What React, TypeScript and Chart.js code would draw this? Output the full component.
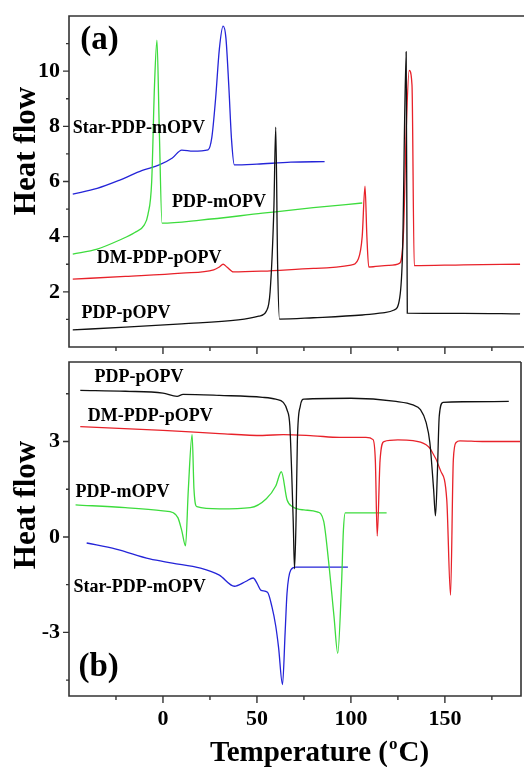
import React, { useEffect, useRef } from "react";
import { Chart, registerables } from "chart.js";
Chart.register(...registerables);

const FONT = '"Liberation Serif", "Times New Roman", serif';

// ---------- Panel (a) ----------
const aStarT = [-48, -35, -23, -11, -2, 5, 10, 16, 24, 26, 28, 30, 32, 33.5, 35, 36.5, 38, 50, 68, 86];
const aStarV = [5.54, 5.75, 6.05, 6.4, 6.6, 6.85, 7.14, 7.1, 7.15, 7.6, 9.0, 10.8, 11.63, 11.2, 9.5, 7.5, 6.6, 6.63, 6.7, 6.72];

const aMT = [-48, -35, -23, -15, -10, -8, -6, -4.5, -3.2, -2, -0.5, 20, 53, 80, 106];
const aMV = [3.37, 3.55, 3.88, 4.15, 4.42, 4.8, 6.0, 9.5, 11.12, 8.0, 4.49, 4.6, 4.85, 5.05, 5.22];

const aDMT = [-48, -20, 10, 27, 30, 32, 34, 37.5, 53, 80, 100, 104, 106, 107.5, 108.5, 109.5, 120, 126, 128, 129.5, 131, 132.5, 133.7, 160, 190];
const aDMV = [2.46, 2.56, 2.68, 2.8, 2.9, 3.0, 2.9, 2.72, 2.75, 2.85, 2.97, 3.2, 4.0, 5.83, 4.0, 2.9, 2.96, 3.04, 4.2, 8.0, 10.03, 9.5, 2.95, 2.98, 3.0];

const aPT = [-48, -20, 10, 40, 51, 55, 57, 59, 60, 61, 62, 80, 106, 118, 123, 126, 127.5, 129.4, 130, 160, 190];
const aPV = [0.62, 0.72, 0.84, 0.98, 1.12, 1.3, 2.0, 5.0, 7.97, 3.0, 1.01, 1.06, 1.16, 1.25, 1.34, 1.8, 3.5, 10.7, 1.23, 1.22, 1.2];

// ---------- Panel (b) ----------
const bPT = [-44, -20, 0, 7.5, 10.7, 30, 53, 60, 64, 66, 67.5, 68.5, 69.3, 70, 70.8, 71.5, 73, 75, 100, 124, 133, 137, 140, 142, 144, 145, 146, 147, 149, 160, 184];
const bPV = [4.61, 4.58, 4.52, 4.42, 4.48, 4.45, 4.39, 4.33, 4.23, 4.0, 3.5, 2.0, 0.5, -1.0, 0.5, 3.0, 4.1, 4.33, 4.36, 4.26, 4.15, 4.0, 3.6, 2.97, 1.5, 0.66, 2.0, 3.8, 4.23, 4.25, 4.26];

const bDMT = [-44, 0, 30, 53, 64, 80, 94, 108, 111.8, 113, 114, 115.5, 117.6, 125, 133, 140, 142.5, 147.6, 151, 153, 154.5, 156, 158, 170, 190];
const bDMV = [3.47, 3.35, 3.25, 3.19, 3.22, 3.18, 3.13, 3.13, 3.06, 2.4, 0.03, 2.4, 3.0, 3.05, 3.03, 2.9, 2.75, 2.1, 1.17, -1.83, 2.43, 2.97, 3.02, 3.0, 3.0];

const bMT = [-46.5, -20, 0, 5.5, 8, 10, 12, 13.5, 15.5, 16.5, 18, 30, 46.5, 55, 60, 63, 66, 69, 75, 82, 85.5, 88, 91, 93, 95, 96, 97, 105, 119];
const bMV = [1.01, 0.92, 0.82, 0.76, 0.6, 0.2, -0.28, 1.5, 3.22, 1.5, 0.95, 0.88, 0.92, 1.2, 1.6, 2.05, 1.17, 0.95, 0.85, 0.79, 0.5, -0.7, -2.5, -3.66, -1.5, 0.2, 0.76, 0.76, 0.76];

const bStarT = [-40.6, -25, -7, 5, 20, 30, 38, 44, 48, 50, 52, 55.6, 58, 60, 61.5, 63.6, 65, 66, 68, 70.6, 85, 98.4];
const bStarV = [-0.19, -0.38, -0.69, -0.82, -0.98, -1.2, -1.55, -1.4, -1.29, -1.45, -1.67, -1.74, -2.2, -2.8, -3.47, -4.64, -3.0, -1.77, -1.04, -0.95, -0.95, -0.95];

// ---------- Ticks & labels ----------
const xMajor = [0, 50, 100, 150];
const xMinorStep = 25;
const aYMajor = [2, 4, 6, 8, 10];
const bYMajor = [-3, 0, 3];

const seriesNames = ["PDP-pOPV", "DM-PDP-pOPV", "PDP-mOPV", "Star-PDP-mOPV"];
const seriesColors = ["#111111", "#e8222a", "#3ddc3d", "#2424d8"];

const aLabelT = [-43.3, -35.3, 4.8, -48];
const aLabelV = [1.23, 3.22, 5.25, 7.93];
const bLabelT = [-36.4, -40, -46.5, -47.6];
const bLabelV = [5.02, 3.79, 1.39, -1.58];

const pts = (t: number[], v: number[]) => t.map((x, i) => ({ x, y: v[i] }));

function makeDatasets(list: [number[], number[]][]) {
  return list.map((d, i) => ({
    label: seriesNames[i],
    data: pts(d[0], d[1]),
    borderColor: seriesColors[i],
    borderWidth: 1.3,
    pointRadius: 0,
    cubicInterpolationMode: "monotone" as const,
    fill: false,
  }));
}

function decorPlugin(cfg: {
  panel: string; panelT: number; panelV: number;
  labelT: number[]; labelV: number[];
  yMinor: number[]; yMajor: number[];
  titleY: number; extendRight: boolean; xTitle: boolean; offsetY: number;
}) {
  return {
    id: "decor" + cfg.panel,
    afterDraw(chart: any) {
      const ctx = chart.ctx;
      const { left, right, top, bottom } = chart.chartArea;
      const xs = chart.scales.x;
      const ys = chart.scales.y;
      ctx.save();
      // frame
      ctx.strokeStyle = "#333";
      ctx.lineWidth = 1.6;
      ctx.beginPath();
      const rEdge = cfg.extendRight ? chart.width : right;
      ctx.moveTo(rEdge, top);
      ctx.lineTo(left, top);
      ctx.lineTo(left, bottom);
      ctx.lineTo(rEdge, bottom);
      if (!cfg.extendRight) {
        ctx.lineTo(right, top);
      }
      ctx.stroke();
      // x ticks
      ctx.lineWidth = 1.4;
      ctx.beginPath();
      for (let v = xs.min + xMinorStep; v <= xs.max; v += xMinorStep) {
        const vv = Math.round(v / xMinorStep) * xMinorStep;
        const px = xs.getPixelForValue(vv);
        if (px <= left + 1 || px >= right - 1) continue;
        const len = xMajor.includes(vv) ? 7 : 4;
        ctx.moveTo(px, bottom);
        ctx.lineTo(px, bottom + len);
      }
      // y ticks
      for (const v of cfg.yMinor) {
        const py = ys.getPixelForValue(v);
        const len = cfg.yMajor.includes(v) ? 6 : 3;
        ctx.moveTo(left, py);
        ctx.lineTo(left - len, py);
      }
      ctx.stroke();
      // series labels
      ctx.fillStyle = "#000";
      ctx.font = `bold 18px ${FONT}`;
      ctx.textAlign = "left";
      ctx.textBaseline = "middle";
      seriesNames.forEach((n, i) => {
        ctx.fillText(n, xs.getPixelForValue(cfg.labelT[i]), ys.getPixelForValue(cfg.labelV[i]));
      });
      // panel label
      ctx.font = `bold 33px ${FONT}`;
      ctx.fillText(cfg.panel, xs.getPixelForValue(cfg.panelT), ys.getPixelForValue(cfg.panelV));
      // y title
      ctx.save();
      ctx.translate(35, cfg.titleY);
      ctx.rotate(-Math.PI / 2);
      ctx.textAlign = "center";
      ctx.textBaseline = "alphabetic";
      ctx.font = `bold 31px ${FONT}`;
      ctx.fillText("Heat flow", 0, 0);
      ctx.restore();
      // x title
      if (cfg.xTitle) {
        ctx.textBaseline = "alphabetic";
        ctx.textAlign = "left";
        const base = 761 - cfg.offsetY;
        let x = 210;
        ctx.font = `bold 29px ${FONT}`;
        const p1 = "Temperature (";
        ctx.fillText(p1, x, base);
        x += ctx.measureText(p1).width + 1;
        ctx.font = `bold 17px ${FONT}`;
        ctx.fillText("o", x, base - 12);
        x += ctx.measureText("o").width + 1;
        ctx.font = `bold 29px ${FONT}`;
        ctx.fillText("C)", x, base);
      }
      ctx.restore();
    },
  };
}

const zeroPad = (s: any) => {
  s.paddingTop = 0;
  s.paddingBottom = 0;
  s.paddingLeft = 0;
  s.paddingRight = 0;
};

function baseScales(yMin: number, yMax: number, yStep: number, yMajor: number[], xh: number, showX: boolean) {
  return {
    x: {
      type: "linear" as const,
      min: -50,
      max: 190.5,
      grid: { display: false, drawTicks: false },
      border: { display: false },
      ticks: {
        display: showX,
        stepSize: 50,
        includeBounds: false,
        autoSkip: false,
        padding: 10,
        color: "#000",
        font: { family: FONT, size: 22, weight: "bold" as const },
        callback: (v: any) => (xMajor.includes(Number(v)) ? String(v) : ""),
      },
      afterFit: (s: any) => { s.height = xh; zeroPad(s); },
    },
    y: {
      min: yMin,
      max: yMax,
      grid: { display: false, drawTicks: false },
      border: { display: false },
      ticks: {
        stepSize: yStep,
        includeBounds: false,
        autoSkip: false,
        padding: 9,
        color: "#000",
        font: { family: FONT, size: 22, weight: "bold" as const },
        callback: (v: any) => (yMajor.includes(Number(v)) ? String(v) : ""),
      },
      afterFit: (s: any) => { s.width = 69; zeroPad(s); },
    },
  };
}

export default function App() {
  const aRef = useRef<HTMLCanvasElement>(null);
  const bRef = useRef<HTMLCanvasElement>(null);

  useEffect(() => {
    const ca = new Chart(aRef.current as HTMLCanvasElement, {
      type: "line",
      data: {
        datasets: makeDatasets([[aPT, aPV], [aDMT, aDMV], [aMT, aMV], [aStarT, aStarV]]),
      },
      options: {
        responsive: false,
        animation: false,
        devicePixelRatio: 1,
        layout: { padding: { left: 0, right: 3, top: 16, bottom: 0 } },
        plugins: { legend: { display: false }, tooltip: { enabled: false } },
        scales: baseScales(0, 12, 2, aYMajor, 13, false),
      },
      plugins: [decorPlugin({
        panel: "(a)", panelT: -44, panelV: 11.1,
        labelT: aLabelT, labelV: aLabelV,
        yMinor: [1, 2, 3, 4, 5, 6, 7, 8, 9, 10, 11], yMajor: aYMajor,
        titleY: 151, extendRight: true, xTitle: false, offsetY: 0,
      })],
    } as any);

    const cb = new Chart(bRef.current as HTMLCanvasElement, {
      type: "line",
      data: {
        datasets: makeDatasets([[bPT, bPV], [bDMT, bDMV], [bMT, bMV], [bStarT, bStarV]]),
      },
      options: {
        responsive: false,
        animation: false,
        devicePixelRatio: 1,
        layout: { padding: { left: 0, right: 3, top: 2, bottom: 0 } },
        plugins: { legend: { display: false }, tooltip: { enabled: false } },
        scales: baseScales(-5, 5.5, 3, bYMajor, 71, true),
      },
      plugins: [decorPlugin({
        panel: "(b)", panelT: -45, panelV: -4.1,
        labelT: bLabelT, labelV: bLabelV,
        yMinor: [-4.5, -3, -1.5, 0, 1.5, 3, 4.5], yMajor: bYMajor,
        titleY: 145, extendRight: false, xTitle: true, offsetY: 360,
      })],
    } as any);

    return () => { ca.destroy(); cb.destroy(); };
  }, []);

  return (
    <div style={{ position: "fixed", left: 0, top: 0, width: 524, height: 767, background: "#fff", overflow: "hidden" }}>
      <canvas ref={aRef} width={524} height={360} style={{ position: "absolute", left: 0, top: 0, width: 524, height: 360 }} />
      <canvas ref={bRef} width={524} height={407} style={{ position: "absolute", left: 0, top: 360, width: 524, height: 407 }} />
    </div>
  );
}
